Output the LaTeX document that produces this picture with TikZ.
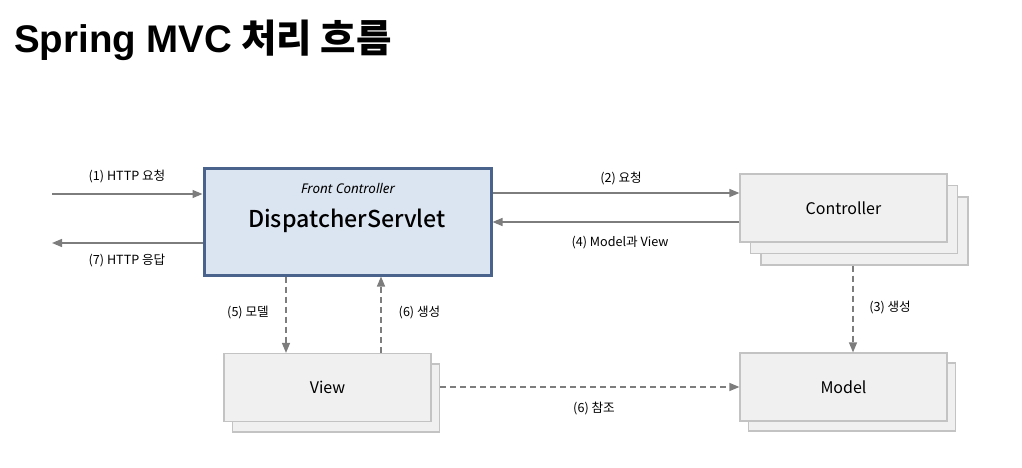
\documentclass[tikz,border=0pt]{standalone}
\usepackage{fontspec}
\setmainfont{Noto Sans CJK KR}
\newfontfamily\titlelat{Liberation Sans}
\newfontfamily\notolat{Noto Sans}
\newfontfamily\cjkmed{Noto Sans CJK KR Medium}
\usetikzlibrary{arrows.meta}
\definecolor{dsfill}{RGB}{219,228,241}
\definecolor{dsdraw}{RGB}{74,99,140}
\definecolor{gfill}{RGB}{240,240,240}
\definecolor{gdraw}{RGB}{195,195,195}
\definecolor{arrcol}{RGB}{125,125,125}
\tikzset{
  gbox/.style={draw=gdraw, line width=1.2pt, fill=gfill, minimum width=207pt, minimum height=68pt, inner sep=0pt, font=\fontsize{16}{18}\selectfont},
  dsbox/.style={draw=dsdraw, line width=3pt, fill=dsfill, minimum width=287pt, minimum height=107pt, inner sep=0pt},
  arr/.style={draw=arrcol, line width=1.3pt, -{Triangle[length=10pt,width=8pt]}},
  darr/.style={arr, dash pattern=on 6pt off 4pt},
  lbl/.style={font=\fontsize{12.6}{14}\selectfont, inner sep=0pt}
}
\begin{document}
\begin{tikzpicture}[x=1pt,y=-1pt]
\useasboundingbox (0,0) rectangle (1022,468);
\node[anchor=base west, inner sep=0pt, font=\fontsize{38.5}{40}\selectfont\bfseries] (title) at (14,53) {{\titlelat Spring MVC} 처리 흐름};

% DispatcherServlet
\node[dsbox] (ds) at (347.5,221.5) {};
\node[inner sep=0pt, font=\notolat\itshape\fontsize{13.4}{15}\selectfont] (fc) at (348,188) {Front Controller};
\node[inner sep=0pt, font=\cjkmed\fontsize{23.2}{25}\selectfont] (dsn) at (347,221) {DispatcherServlet};

% Controller stack
\node[gbox] (ctrl3) at (864.5,231) {};
\node[gbox] (ctrl2) at (854,219.5) {};
\node[gbox] (ctrl) at (843.5,208) {Controller};

% Model stack
\node[gbox] (model2) at (852,397) {};
\node[gbox] (model) at (843.5,387) {Model};

% View stack
\node[gbox] (view2) at (336,398) {};
\node[gbox] (view) at (327.5,387.5) {View};

% (1) and (7)
\coordinate (in1) at (52,194);
\draw[arr] (in1) -- (in1 -| ds.west);
\coordinate (out7) at (52,243);
\draw[arr] (ds.west |- out7) -- (out7);
\node[lbl] (l1) at (127,176) {(1) HTTP 요청};
\node[lbl] (l7) at (127,261) {(7) HTTP 응답};

% (2) and (4)
\coordinate (c2) at ([yshift=15pt]ctrl.west);
\draw[arr] (ds.east |- c2) -- (c2);
\coordinate (c4) at ([yshift=-14pt]ctrl.west);
\draw[arr] (c4) -- (ds.east |- c4);
\node[lbl] (l2) at (621,178) {(2) 요청};
\node[lbl] (l4) at (620,243) {(4) Model과 View};

% (3)
\coordinate (mtop) at ([xshift=9.5pt]model.north);
\draw[darr] (ctrl3.south -| mtop) -- (mtop);
\node[lbl] (l3) at (890,308) {(3) 생성};

% (5) and (6)
\coordinate (v5) at ([xshift=-41.5pt]view.north);
\draw[darr] (ds.south -| v5) -- (v5);
\coordinate (v6) at ([xshift=53.5pt]view.north);
\draw[darr] (v6) -- (ds.south -| v6);
\node[lbl] (l5) at (248,313) {(5) 모델};
\node[lbl] (l6) at (419.5,313) {(6) 생성};

% (6) reference
\draw[darr] (view2.east |- model.west) -- (model.west);
\node[lbl] (l6b) at (594,408) {(6) 참조};
\end{tikzpicture}
\end{document}
